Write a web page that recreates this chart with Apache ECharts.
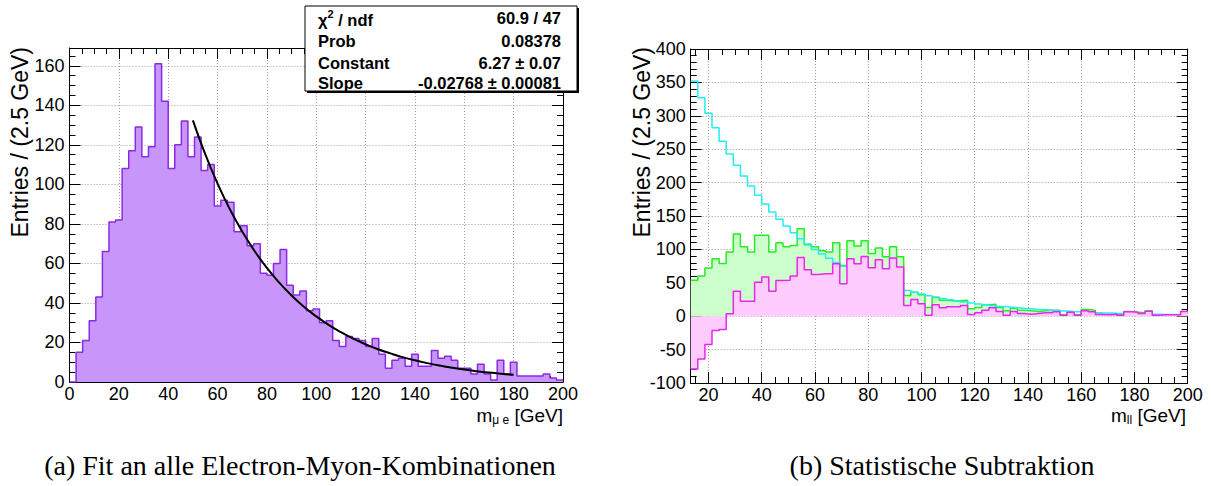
<!DOCTYPE html>
<html>
<head>
<meta charset="utf-8">
<script src="https://cdn.jsdelivr.net/npm/echarts@6/dist/echarts.min.js"></script>
<style>
html,body{margin:0;padding:0;background:#fff;}
#c{width:1211px;height:486px;}
</style>
</head>
<body>
<div id="c"></div>
<script>
// ---------------- data ----------------
// both histograms: 75 bins over 0..200 GeV
const histLow = 0;
const histHigh = 200;
const histBins = 75;

// (a) e-mu invariant mass, entries per bin, bins 0..74
const emuCounts = [
  0, 15, 21, 31, 43, 66, 81, 82, 108, 117,
  129, 114, 119, 161, 142, 108, 120, 132, 114, 124,
  107, 110, 89, 92, 91, 76, 79, 69, 70, 55,
  54, 60, 67, 49, 44, 46, 36, 37, 30, 31,
  21, 18, 23, 22, 21, 18, 22, 14, 7, 11,
  12, 8, 14, 8, 8, 16, 12, 13, 11, 7,
  7, 4, 9, 4, 1, 11, 4, 10, 3, 3,
  3, 3, 4, 2, 1
];

// exponential fit drawn over 50..180 GeV
const fitMass = [50, 55, 60, 65, 70, 75, 80, 85, 90, 95, 100, 105, 110, 115, 120,
                 125, 130, 135, 140, 145, 150, 155, 160, 165, 170, 175, 180];
const fitValue = [132.4, 115.3, 100.4, 87.4, 76.1, 66.3, 57.7, 50.3, 43.8, 38.1, 33.2,
                  28.9, 25.2, 21.9, 19.1, 16.6, 14.5, 12.6, 11.0, 9.55, 8.3, 7.24,
                  6.3, 5.49, 4.78, 4.16, 3.62];

// fit statistics box
const statLabels = ['Prob', 'Constant', 'Slope'];
const statValues = ['60.9 / 47', '0.08378', '6.27 \u00b1 0.07', '-0.02768 \u00b1 0.00081'];

// (b) statistical subtraction, bins 5..74 (first shown bin starts at 13.33 GeV)
const subFirstBin = 5;
const sameFlavour = [   // green
  54, 60, 72, 86, 79, 96, 123, 104, 96, 121,
  121, 96, 110, 104, 106, 131, 107, 104, 98, 96,
  110, 76, 113, 105, 113, 94, 102, 89, 104, 89,
  31, 36, 32, 13, 28, 24, 23, 23, 24, 11,
  13, 17, 18, 13, 8, 12, 9, 8, 7, 8,
  9, 9, 2, 6, 2, 10, 9, 3, 2, 3,
  2, 7, 6, 5, 8, 2, 2, 2, 2, 7
];
const emuScaled = [     // cyan
  352, 327, 304, 282, 262, 243, 226, 210, 195, 181,
  168, 156, 145, 135, 125, 116, 108, 100, 93, 86.6,
  80.4, 74.7, 69.4, 64.4, 59.8, 55.6, 51.6, 48, 44.5, 41.4,
  38.4, 35.7, 33.2, 30.8, 28.6, 26.6, 24.7, 22.9, 21.3, 19.8,
  18.4, 17.1, 15.8, 14.7, 13.7, 12.7, 11.8, 11, 10.2, 9.5,
  8.8, 8.2, 7.6, 7, 6.5, 6.1, 5.6, 5.2, 4.9, 4.5,
  4.2, 3.9, 3.6, 3.4, 3.1, 2.9, 2.7, 2.5, 2.3, 2.2
];
const subtracted = [    // magenta
  -79, -64, -42.5, -21.5, -20, 3.5, 37.5, 22.5, 22.5, 51,
  58.5, 37.5, 53.5, 54, 60, 88, 69.5, 62.5, 63.5, 63.5,
  78.5, 48.5, 86, 78.5, 89.5, 72.5, 84.5, 71, 87, 73.5,
  16, 25, 18.5, 1.5, 17, 12.5, 14, 14, 16, 2.5,
  5, 9, 12.5, 7, 1.5, 7, 4, 3, 4, 5,
  5, 6.5, 1.5, 6, 1.5, 8, 6.5, 2.5, 2, 3,
  1.5, 6.5, 6, 4, 7.5, 1.5, 2, 2, 2, 7
];

// axis ranges and tick steps
const axisA = { xMin: 0, xMax: 200, xStep: 20, xMinor: 5, yMin: 0, yMax: 169, yStep: 20, yMinor: 5 };
const axisB = { xMin: 40 / 3, xMax: 200, xStep: 20, xMinor: 5, yMin: -100, yMax: 400, yStep: 50, yMinor: 10 };

const yTitle = 'Entries / (2.5 GeV)';
const captionA = '(a) Fit an alle Electron-Myon-Kombinationen';
const captionB = '(b) Statistische Subtraktion';

// ---------------- helpers ----------------
const SANS = '"Liberation Sans", Arial, Helvetica, sans-serif';
const SERIF = '"Liberation Serif", "Times New Roman", serif';
const binWidth = (histHigh - histLow) / histBins;
function binEdge(i) { return histLow + i * binWidth; }
function stepPoints(counts, firstBin) {
  const pts = counts.map((v, i) => [binEdge(firstBin + i), v]);
  pts.push([binEdge(firstBin + counts.length), counts[counts.length - 1]]);
  return pts;
}
function isMultiple(v, step) {
  const r = Math.abs(v / step - Math.round(v / step));
  return r < 1e-6;
}
function mkAxis(o) {
  const a = {
    type: 'value', gridIndex: o.grid, position: o.pos, min: o.min, max: o.max,
    silent: true,
    axisLine: { show: !!o.major, onZero: false, lineStyle: { color: '#000', width: 1 } },
    axisTick: { show: true, inside: true, length: o.major ? 11 : 6, lineStyle: { color: '#000', width: 1 } },
    axisLabel: {
      show: !!o.labels, color: '#000', fontSize: 18, fontFamily: SANS, margin: o.margin || 4,
      formatter: v => isMultiple(v, o.step) ? String(Math.round(v)) : ''
    },
    splitLine: o.split ? { show: true, lineStyle: { color: '#9a9a9a', width: 1, type: [1, 2] } } : { show: false },
    minorTick: { show: false }
  };
  if (isMultiple(o.min, o.step)) a.interval = o.step;
  else { a.minInterval = o.step; a.maxInterval = o.step; }
  return a;
}
function axesFor(grid, ax, dim) {
  const min = dim === 'x' ? ax.xMin : ax.yMin, max = dim === 'x' ? ax.xMax : ax.yMax;
  const step = dim === 'x' ? ax.xStep : ax.yStep, minor = dim === 'x' ? ax.xMinor : ax.yMinor;
  const p1 = dim === 'x' ? 'bottom' : 'left', p2 = dim === 'x' ? 'top' : 'right';
  return [
    mkAxis({ grid, pos: p1, min, max, step, major: true, labels: true, split: true, margin: dim === 'x' ? 3 : 5 }),
    mkAxis({ grid, pos: p1, min, max, step: minor }),
    mkAxis({ grid, pos: p2, min, max, step, major: true }),
    mkAxis({ grid, pos: p2, min, max, step: minor })
  ];
}

// ---------------- chart ----------------
const chart = echarts.init(document.getElementById('c'), null, { renderer: 'svg' });

const xAxes = axesFor(0, axisA, 'x').concat(axesFor(1, axisB, 'x'));
const yAxes = axesFor(0, axisA, 'y').concat(axesFor(1, axisB, 'y'));

function textEl(x, y, text, font, align, vAlign, extra) {
  return Object.assign({
    type: 'text', x: x, y: y, silent: true, z: 100,
    style: { text: text, font: font, fill: '#000', align: align || 'left', verticalAlign: vAlign || 'middle' }
  }, extra || {});
}
function massTitle(x, sub) {
  return {
    type: 'text', x: x, y: 416, silent: true, z: 100,
    style: {
      text: '{m|m}{s|' + sub + '}{m| [GeV]}', fill: '#000', align: 'right', verticalAlign: 'middle',
      rich: {
        m: { fontSize: 19, fontFamily: SANS, lineHeight: 20, verticalAlign: 'top' },
        s: { fontSize: 12, fontFamily: SANS, lineHeight: 12, verticalAlign: 'bottom' }
      }
    }
  };
}

const statFont = 'bold 16.5px ' + SANS;
const statRowsY = [18, 41, 63, 83];
const titleFont = '23px ' + SANS;
const captionFont = '28px ' + SERIF;
const graphics = [
  // stats box (shadow + box)
  { type: 'rect', silent: true, z: 90, shape: { x: 307, y: 8, width: 272, height: 85 }, style: { fill: '#000' } },
  { type: 'rect', silent: true, z: 91, shape: { x: 305, y: 6, width: 272, height: 85 }, style: { fill: '#fff', stroke: '#000', lineWidth: 1 } },
  {
    type: 'text', x: 318, y: statRowsY[0], silent: true, z: 100,
    style: {
      text: '{a|\u03c7}{s|2}{a| / ndf}', fill: '#000', align: 'left', verticalAlign: 'middle',
      rich: {
        a: { font: statFont, lineHeight: 20, verticalAlign: 'bottom' },
        s: { font: 'bold 11px ' + SANS, lineHeight: 11, verticalAlign: 'top' }
      }
    }
  },
  textEl(318, statRowsY[1], statLabels[0], statFont),
  textEl(318, statRowsY[2], statLabels[1], statFont),
  textEl(318, statRowsY[3], statLabels[2], statFont),
  textEl(561, statRowsY[0], statValues[0], statFont, 'right'),
  textEl(561, statRowsY[1], statValues[1], statFont, 'right'),
  textEl(561, statRowsY[2], statValues[2], statFont, 'right'),
  textEl(561, statRowsY[3], statValues[3], statFont, 'right'),
  // y axis titles
  textEl(20, 47, yTitle, titleFont, 'right', 'middle', { rotation: Math.PI / 2 }),
  textEl(642, 47, yTitle, titleFont, 'right', 'middle', { rotation: Math.PI / 2 }),
  // x axis titles
  massTitle(563, '\u03bc e'),
  massTitle(1186, 'll'),
  // captions
  textEl(300, 465, captionA, captionFont, 'center'),
  textEl(942, 465, captionB, captionFont, 'center')
];

const option = {
  animation: false,
  backgroundColor: '#fff',
  grid: [
    { left: 69.5, top: 48, width: 493.5, height: 334, containLabel: false, outerBoundsMode: 'none' },
    { left: 690.7, top: 49, width: 497, height: 334, containLabel: false, outerBoundsMode: 'none' }
  ],
  xAxis: xAxes,
  yAxis: yAxes,
  series: [
    {
      name: 'emu', type: 'line', xAxisIndex: 0, yAxisIndex: 0, step: 'end', symbol: 'none',
      data: stepPoints(emuCounts, 0), z: 2,
      lineStyle: { color: '#8a2be2', width: 1.5 },
      areaStyle: { color: '#c896fa', opacity: 1, origin: 0 }
    },
    {
      name: 'fit', type: 'line', xAxisIndex: 0, yAxisIndex: 0, smooth: true, symbol: 'none',
      data: fitMass.map((m, i) => [m, fitValue[i]]), z: 3,
      lineStyle: { color: '#000', width: 2 }
    },
    {
      name: 'sameFlavour', type: 'line', xAxisIndex: 4, yAxisIndex: 4, step: 'end', symbol: 'none',
      data: stepPoints(sameFlavour, subFirstBin), z: 2,
      lineStyle: { color: '#22ee22', width: 1.5 },
      areaStyle: { color: '#ccffcc', opacity: 1, origin: 0 }
    },
    {
      name: 'emuScaled', type: 'line', xAxisIndex: 4, yAxisIndex: 4, step: 'end', symbol: 'none',
      data: stepPoints(emuScaled, subFirstBin), z: 3,
      lineStyle: { color: '#22eeee', width: 1.5 }
    },
    {
      name: 'subtracted', type: 'line', xAxisIndex: 4, yAxisIndex: 4, step: 'end', symbol: 'none',
      data: stepPoints(subtracted, subFirstBin), z: 4,
      lineStyle: { color: '#ee22ee', width: 1.5 },
      areaStyle: { color: '#ffccff', opacity: 1, origin: 0 }
    }
  ],
  graphic: graphics
};
chart.setOption(option);
</script>
</body>
</html>
